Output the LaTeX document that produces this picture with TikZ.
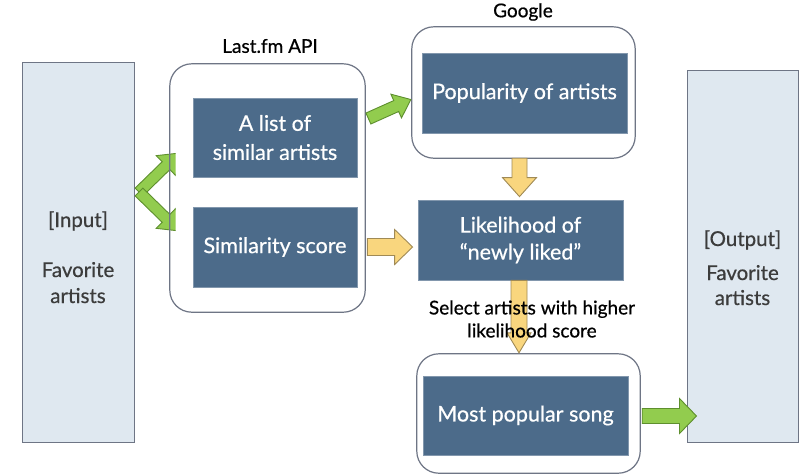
\documentclass[tikz,border=0pt]{standalone}
\usepackage{fontspec}
\setmainfont{Lato}
\newfontfamily\heavyish[FakeBold=0.6]{Lato}
\usetikzlibrary{calc}
\definecolor{boxblue}{HTML}{4C6B8A}
\definecolor{lightfill}{HTML}{DFE8F0}
\definecolor{edgegrey}{HTML}{6E7585}
\definecolor{greenfill}{HTML}{92CC4E}
\definecolor{greenedge}{HTML}{5E8F2E}
\definecolor{yellowfill}{HTML}{F9D67E}
\definecolor{yellowedge}{HTML}{A08A55}
\definecolor{softtext}{HTML}{3C3C3C}
% #1 style, #2 start, #3 end, #4 shaft half width, #5 head half width, #6 head length
\newcommand\fatarr[6]{%
 \coordinate (fas) at (#2); \coordinate (fae) at (#3);
 \coordinate (fah) at ($(fae)!#6!(fas)$);
 \draw[#1] ($(fas)!#4!90:(fae)$) -- ($(fah)!#4!-90:(fas)$) -- ($(fah)!#5!-90:(fas)$) -- (fae) -- ($(fah)!#5!90:(fas)$) -- ($(fah)!#4!90:(fas)$) -- ($(fas)!#4!-90:(fae)$) -- cycle;}
\begin{document}
\begin{tikzpicture}[x=1pt,y=-1pt,
  lightbox/.style={draw=edgegrey, fill=lightfill, line width=1pt, inner sep=0pt},
  container/.style={fill=white, inner sep=0pt, rounded corners=22pt},
  frame/.style={draw=edgegrey, line width=1.2pt, rounded corners=22pt},
  darkbox/.style={draw=boxblue!70!white, fill=boxblue, text=white, align=center, line width=0.8pt, inner sep=0pt, font=\heavyish\fontsize{21.5}{29}\selectfont},
  greenarr/.style={draw=greenedge, fill=greenfill, line width=0.9pt, line join=miter},
  yellowarr/.style={draw=yellowedge, fill=yellowfill, line width=0.9pt, line join=miter},
  lbl/.style={text=black, align=center, font=\heavyish\fontsize{19}{23}\selectfont},
  softlbl/.style={text=softtext, anchor=base, font=\heavyish\fontsize{20.5}{26}\selectfont}]
\fill[white] (0,0) rectangle (811,475);
\useasboundingbox (0,0) rectangle (811,475);

% input and output columns
\node[lightbox, minimum width=112pt, minimum height=380pt] (in) at (78,252) {};
\node[softlbl] (intag) at (78,227) {[Input]};
\node[softlbl] (infav) at (78,277) {Favorite};
\node[softlbl] (inart) at (78,303) {artists};

\node[lightbox, minimum width=111pt, minimum height=372pt] (out) at (742.5,256) {};
\node[softlbl] (outtag) at (742.5,246) {[Output]};
\node[softlbl] (outfav) at (742.5,280) {Favorite};
\node[softlbl] (outart) at (742.5,305) {artists};

% containers
\node[container, minimum width=195pt, minimum height=248pt] (lastfm) at (267.5,188) {};
\node[lbl] (lastfmlbl) at (270,46) {Last.fm API};
\node[container, minimum width=223pt, minimum height=131pt] (google) at (523.5,92.5) {};
\node[lbl] (googlelbl) at (523,12) {Google};
\node[container, minimum width=223pt, minimum height=119pt] (songc) at (528.5,413.5) {};

% chevron from input
\coordinate (chev) at (139,192);
\begin{scope}
\clip (100,100) rectangle (175.5,260);
\fatarr{greenarr}{chev}{178.9,153.1}{5.5pt}{14pt}{18pt}
\fatarr{greenarr}{chev}{178.9,230.9}{5.5pt}{14pt}{18pt}
\end{scope}

\draw[frame] (lastfm.north west) rectangle (lastfm.south east);
\draw[frame] (google.north west) rectangle (google.south east);
\draw[frame] (songc.north west) rectangle (songc.south east);

% inner boxes
\node[darkbox, minimum width=164pt, minimum height=79pt] (list) at (275,137.5) {A list of\\similar artists};
\node[darkbox, minimum width=164pt, minimum height=80pt] (sim) at (275,247) {Similarity score};
\node[darkbox, minimum width=205pt, minimum height=80pt] (pop) at (524.5,93) {Popularity of artists};
\node[darkbox, minimum width=205pt, minimum height=80pt, font=\heavyish\fontsize{21.5}{27}\selectfont] (lik) at (520.5,240) {Likelihood of\\“newly liked”};
\node[darkbox, minimum width=205pt, minimum height=79pt] (song) at (525.5,415.5) {Most popular song};

% arrows
\fatarr{greenarr}{$(list.east)+(11,-19)$}{$(google.west)+(-1,7)$}{6pt}{13pt}{16pt}
\fatarr{yellowarr}{$(sim.east)+(10,0)$}{$(lik.west)+(-5,7)$}{8.5pt}{17.5pt}{18pt}
\fatarr{yellowarr}{$(google.south)+(-4,0)$}{$(lik.north)+(-1,-3)$}{7.5pt}{17pt}{19pt}
\fatarr{yellowarr}{$(lik.south)+(-1.5,0)$}{$(songc.north)+(-9.5,-1)$}{8pt}{12pt}{20pt}
\fatarr{greenarr}{$(songc.east)+(2,2.5)$}{$(out.west)+(10,160)$}{7.5pt}{17.5pt}{17pt}

\node[lbl] (selectlbl) at (532,319) {Select artists with higher\\likelihood score};
\end{tikzpicture}
\end{document}
